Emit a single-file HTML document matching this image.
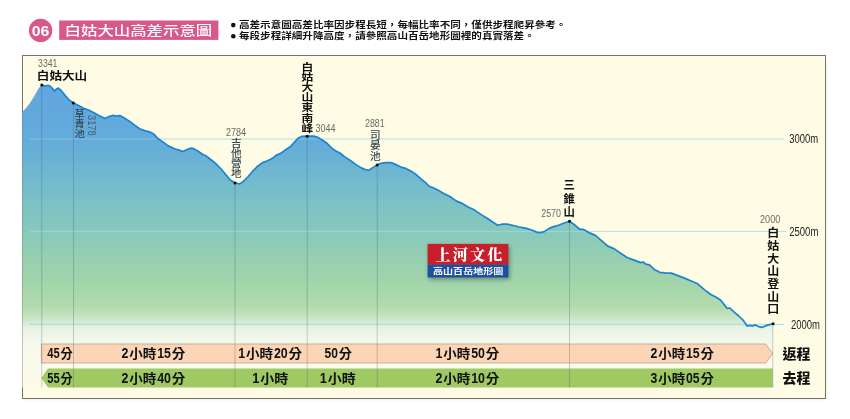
<!DOCTYPE html>
<html lang="zh-Hant"><head><meta charset="utf-8"><title>白姑大山高差示意圖</title>
<style>
html,body{margin:0;padding:0;background:#fff;}
body{width:850px;height:419px;overflow:hidden;}
svg{display:block;}
text{font-family:"Liberation Sans","Noto Sans CJK TC",sans-serif;}
.b{font-weight:bold;}
.num{fill:#6a6a66;font-size:10.6px;}
.sub{fill:#33434f;font-size:9.2px;font-weight:500;}
.pk{fill:#111;font-weight:bold;}
.alt{fill:#222;font-size:12px;}
.tm{fill:#111;font-weight:bold;font-size:13.4px;}
.serif{font-family:"Liberation Serif","Noto Serif CJK SC",serif;}
</style></head><body>
<svg width="850" height="419" viewBox="0 0 850 419">
<defs>
<linearGradient id="g" x1="0" y1="85" x2="0" y2="387.4" gradientUnits="userSpaceOnUse">
<stop offset="0.0000" stop-color="#62a6de"/>
<stop offset="0.1157" stop-color="#62a9dc"/>
<stop offset="0.2116" stop-color="#65aed7"/>
<stop offset="0.3009" stop-color="#70b8cf"/>
<stop offset="0.3869" stop-color="#7cc1c6"/>
<stop offset="0.4861" stop-color="#88c9bc"/>
<stop offset="0.5721" stop-color="#96cfb0"/>
<stop offset="0.6614" stop-color="#a4d5aa"/>
<stop offset="0.7341" stop-color="#b2dbae"/>
<stop offset="0.7738" stop-color="#cce6c6"/>
<stop offset="0.8036" stop-color="#e8f2e4"/>
<stop offset="0.8433" stop-color="#f3f8ec"/>
<stop offset="0.8829" stop-color="#f7f9ec"/>
<stop offset="0.9358" stop-color="#fafbea"/>
<stop offset="1.0000" stop-color="#fcfbe6"/>
</linearGradient>
<filter id="sh" x="-10%" y="-20%" width="120%" height="150%"><feGaussianBlur stdDeviation="2"/></filter>
<filter id="fsh" x="-2%" y="-2%" width="104%" height="104%"><feGaussianBlur stdDeviation="1.2"/></filter>
</defs>
<rect width="850" height="419" fill="#fff"/>

<rect x="24" y="62" width="802.6" height="337.6" fill="#b8b8ae" opacity="0.3" filter="url(#fsh)"/>
<rect x="22.5" y="55.5" width="803" height="343" fill="#fefce4" stroke="#74746d" stroke-width="1"/>
<path d="M22.4 111.8 L25.9 108.2 L30.0 103.0 L34.1 96.4 L38.2 89.0 L40.7 85.7 L41.9 84.9 L44.8 86.0 L48.1 85.3 L50.6 86.5 L53.1 89.4 L54.7 91.1 L56.4 89.0 L58.5 88.1 L60.5 89.8 L63.8 93.9 L68.7 99.7 L73.3 103.0 L78.6 105.4 L83.5 108.2 L88.5 110.0 L93.4 112.5 L98.4 115.3 L105.0 118.6 L109.1 116.6 L113.2 115.3 L116.5 116.1 L119.8 115.6 L123.9 117.8 L129.7 121.4 L134.6 125.2 L139.6 128.8 L144.5 130.6 L149.4 131.8 L153.6 133.9 L158.2 138.8 L163.2 142.1 L168.1 145.9 L174.7 148.7 L179.7 150.4 L183.0 151.5 L187.1 149.5 L190.4 148.2 L193.7 148.7 L197.8 150.9 L202.7 154.5 L206.0 155.8 L211.3 160.0 L216.2 164.0 L221.1 169.0 L226.1 175.0 L230.5 180.2 L234.9 182.8 L239.5 184.0 L242.8 181.9 L247.8 177.0 L252.7 171.2 L257.7 166.2 L262.6 162.6 L267.5 160.8 L272.5 158.3 L276.6 155.0 L280.7 153.4 L285.7 149.8 L290.6 146.5 L294.7 141.9 L298.8 137.7 L302.1 136.3 L307.1 136.2 L313.7 136.1 L317.8 137.4 L322.7 140.2 L327.7 144.0 L331.8 148.1 L335.9 151.1 L339.9 153.0 L344.8 156.9 L351.4 161.3 L356.4 164.9 L361.3 167.9 L365.4 169.5 L368.7 170.4 L372.8 167.6 L377.2 164.9 L381.1 163.3 L386.0 162.6 L391.0 162.5 L395.9 164.6 L400.8 167.1 L405.8 168.4 L410.7 170.9 L415.7 174.2 L420.6 178.6 L425.6 182.7 L428.8 186.0 L433.8 188.0 L438.7 190.6 L443.7 193.4 L449.9 196.5 L456.5 201.1 L461.4 203.1 L468.0 206.9 L474.6 210.1 L481.2 214.6 L487.8 218.7 L492.7 222.0 L497.7 225.3 L501.8 224.2 L507.5 224.2 L512.5 225.3 L519.1 227.0 L525.7 228.1 L532.3 230.2 L537.2 232.4 L540.5 232.7 L543.8 231.9 L548.7 228.6 L553.7 226.6 L558.6 225.3 L563.6 223.2 L569.5 221.3 L574.8 225.0 L579.8 229.3 L583.1 229.3 L589.7 232.9 L595.4 235.4 L601.2 240.4 L607.8 246.1 L614.4 248.9 L621.0 253.5 L627.5 257.7 L634.1 260.1 L640.7 262.6 L643.2 262.0 L645.7 264.2 L649.5 264.8 L654.8 269.8 L659.8 272.3 L664.7 272.8 L671.3 273.1 L677.9 275.6 L684.5 278.1 L691.1 281.0 L697.7 283.8 L704.3 289.6 L710.8 294.5 L715.8 297.0 L720.7 300.3 L724.0 304.4 L727.0 308.3 L729.8 308.0 L733.9 311.8 L738.8 316.0 L743.0 320.1 L745.4 323.4 L747.1 325.9 L750.4 325.4 L752.8 325.9 L755.3 324.9 L758.6 326.6 L761.9 327.4 L765.2 325.9 L768.5 324.9 L773.1 323.8 L773.1 387.4 L22.4 387.4 Z" fill="url(#g)"/>
<line x1="29.5" y1="139" x2="784" y2="139" stroke="#8fd0e6" stroke-width="1.1" opacity="0.6"/>
<line x1="29.5" y1="231.4" x2="786" y2="231.4" stroke="#9cdce8" stroke-width="1" opacity="0.75"/>
<line x1="29.5" y1="324.3" x2="784" y2="324.3" stroke="#96d8e0" stroke-width="1" opacity="0.8"/>
<path d="M41.9 84.9 L44.8 86.0 L48.1 85.3 L50.6 86.5 L53.1 89.4 L54.7 91.1 L56.4 89.0 L58.5 88.1 L60.5 89.8 L63.8 93.9 L68.7 99.7 L73.3 103.0 L78.6 105.4 L83.5 108.2 L88.5 110.0 L93.4 112.5 L98.4 115.3 L105.0 118.6 L109.1 116.6 L113.2 115.3 L116.5 116.1 L119.8 115.6 L123.9 117.8 L129.7 121.4 L134.6 125.2 L139.6 128.8 L144.5 130.6 L149.4 131.8 L153.6 133.9 L158.2 138.8 L163.2 142.1 L168.1 145.9 L174.7 148.7 L179.7 150.4 L183.0 151.5 L187.1 149.5 L190.4 148.2 L193.7 148.7 L197.8 150.9 L202.7 154.5 L206.0 155.8 L211.3 160.0 L216.2 164.0 L221.1 169.0 L226.1 175.0 L230.5 180.2 L234.9 182.8 L239.5 184.0 L242.8 181.9 L247.8 177.0 L252.7 171.2 L257.7 166.2 L262.6 162.6 L267.5 160.8 L272.5 158.3 L276.6 155.0 L280.7 153.4 L285.7 149.8 L290.6 146.5 L294.7 141.9 L298.8 137.7 L302.1 136.3 L307.1 136.2 L313.7 136.1 L317.8 137.4 L322.7 140.2 L327.7 144.0 L331.8 148.1 L335.9 151.1 L339.9 153.0 L344.8 156.9 L351.4 161.3 L356.4 164.9 L361.3 167.9 L365.4 169.5 L368.7 170.4 L372.8 167.6 L377.2 164.9 L381.1 163.3 L386.0 162.6 L391.0 162.5 L395.9 164.6 L400.8 167.1 L405.8 168.4 L410.7 170.9 L415.7 174.2 L420.6 178.6 L425.6 182.7 L428.8 186.0 L433.8 188.0 L438.7 190.6 L443.7 193.4 L449.9 196.5 L456.5 201.1 L461.4 203.1 L468.0 206.9 L474.6 210.1 L481.2 214.6 L487.8 218.7 L492.7 222.0 L497.7 225.3 L501.8 224.2 L507.5 224.2 L512.5 225.3 L519.1 227.0 L525.7 228.1 L532.3 230.2 L537.2 232.4 L540.5 232.7 L543.8 231.9 L548.7 228.6 L553.7 226.6 L558.6 225.3 L563.6 223.2 L569.5 221.3 L574.8 225.0 L579.8 229.3 L583.1 229.3 L589.7 232.9 L595.4 235.4 L601.2 240.4 L607.8 246.1 L614.4 248.9 L621.0 253.5 L627.5 257.7 L634.1 260.1 L640.7 262.6 L643.2 262.0 L645.7 264.2 L649.5 264.8 L654.8 269.8 L659.8 272.3 L664.7 272.8 L671.3 273.1 L677.9 275.6 L684.5 278.1 L691.1 281.0 L697.7 283.8 L704.3 289.6 L710.8 294.5 L715.8 297.0 L720.7 300.3 L724.0 304.4 L727.0 308.3 L729.8 308.0 L733.9 311.8 L738.8 316.0 L743.0 320.1 L745.4 323.4 L747.1 325.9 L750.4 325.4 L752.8 325.9 L755.3 324.9 L758.6 326.6 L761.9 327.4 L765.2 325.9 L768.5 324.9 L773.1 323.8" fill="none" stroke="#1a84cf" stroke-width="1.7" stroke-linejoin="round" stroke-linecap="round"/>
<path d="M41.4 344 H765.7 L772.7 353.5 L765.7 363 H41.4 Z" fill="#fbd5b5" stroke="#b79a82" stroke-width="0.7"/>
<path d="M48 368.6 H772.7 V387.4 H48 L41.4 378 Z" fill="#9fca63"/>
<line x1="41.8" y1="85.0" x2="41.8" y2="387.4" stroke="#3a5670" stroke-width="0.6" opacity="0.48"/>
<line x1="73.5" y1="103.0" x2="73.5" y2="387.4" stroke="#3a5670" stroke-width="0.6" opacity="0.48"/>
<line x1="235.0" y1="183.0" x2="235.0" y2="387.4" stroke="#3a5670" stroke-width="0.6" opacity="0.48"/>
<line x1="307.2" y1="136.2" x2="307.2" y2="387.4" stroke="#3a5670" stroke-width="0.6" opacity="0.48"/>
<line x1="377.2" y1="165.0" x2="377.2" y2="387.4" stroke="#3a5670" stroke-width="0.6" opacity="0.48"/>
<line x1="569.5" y1="221.3" x2="569.5" y2="387.4" stroke="#3a5670" stroke-width="0.6" opacity="0.48"/>
<line x1="772.8" y1="324.0" x2="772.8" y2="387.4" stroke="#3a5670" stroke-width="0.6" opacity="0.48"/>
<circle cx="41.8" cy="84.9" r="1.5" fill="#0a0a0a"/>
<circle cx="73.3" cy="103.0" r="1.5" fill="#0a0a0a"/>
<circle cx="235.0" cy="183.0" r="1.5" fill="#0a0a0a"/>
<circle cx="307.2" cy="136.2" r="1.5" fill="#0a0a0a"/>
<circle cx="377.2" cy="164.9" r="1.5" fill="#0a0a0a"/>
<circle cx="569.5" cy="221.3" r="1.5" fill="#0a0a0a"/>
<circle cx="773.1" cy="323.8" r="1.5" fill="#0a0a0a"/>
<text class="alt" x="789.2" y="143.1" textLength="29.0" lengthAdjust="spacingAndGlyphs">3000m</text>
<text class="alt" x="789.2" y="236.0" textLength="29.2" lengthAdjust="spacingAndGlyphs">2500m</text>
<text class="alt" x="791.0" y="328.9" textLength="29.0" lengthAdjust="spacingAndGlyphs">2000m</text>
<text class="num" x="38.1" y="66.8" textLength="19.3" lengthAdjust="spacingAndGlyphs">3341</text>
<text class="num" x="225.9" y="135.9" textLength="20.1" lengthAdjust="spacingAndGlyphs">2784</text>
<text class="num" x="315.4" y="131.6" textLength="20.0" lengthAdjust="spacingAndGlyphs">3044</text>
<text class="num" x="365.0" y="126.6" textLength="19.7" lengthAdjust="spacingAndGlyphs">2881</text>
<text class="num" x="541.2" y="216.5" textLength="19.8" lengthAdjust="spacingAndGlyphs">2570</text>
<text class="num" x="760.1" y="223.0" textLength="20.1" lengthAdjust="spacingAndGlyphs">2000</text>
<text class="num" style="fill:#456079;font-size:10.2px" transform="translate(87.5 115) rotate(90)" textLength="20.6" lengthAdjust="spacingAndGlyphs">3178</text>
<text class="pk" x="36.8" y="79.5" textLength="50.4" lengthAdjust="spacingAndGlyphs" font-size="10.8">白姑大山</text>
<text class="sub" style="font-size:9.6px" text-anchor="middle" transform="translate(79.7 116.9) scale(1.060 1)">草</text>
<text class="sub" style="font-size:9.6px" text-anchor="middle" transform="translate(79.7 126.9) scale(1.060 1)">青</text>
<text class="sub" style="font-size:9.6px" text-anchor="middle" transform="translate(79.7 136.8) scale(1.060 1)">池</text>
<text class="sub" style="font-size:9.8px" text-anchor="middle" transform="translate(236.4 146.7) scale(1.080 1)">吉</text>
<text class="sub" style="font-size:9.8px" text-anchor="middle" transform="translate(236.4 156.9) scale(1.080 1)">他</text>
<text class="sub" style="font-size:9.8px" text-anchor="middle" transform="translate(236.4 167.1) scale(1.080 1)">營</text>
<text class="sub" style="font-size:9.8px" text-anchor="middle" transform="translate(236.4 177.3) scale(1.080 1)">地</text>
<text class="sub" style="font-size:9.8px" text-anchor="middle" transform="translate(375.4 139.3) scale(1.080 1)">司</text>
<text class="sub" style="font-size:9.8px" text-anchor="middle" transform="translate(375.4 149.4) scale(1.080 1)">晏</text>
<text class="sub" style="font-size:9.8px" text-anchor="middle" transform="translate(375.4 159.6) scale(1.080 1)">池</text>
<text class="pk" style="font-size:9.8px" text-anchor="middle" transform="translate(307.3 70.9) scale(1.200 1)">白</text>
<text class="pk" style="font-size:9.8px" text-anchor="middle" transform="translate(307.3 81.0) scale(1.200 1)">姑</text>
<text class="pk" style="font-size:9.8px" text-anchor="middle" transform="translate(307.3 91.1) scale(1.200 1)">大</text>
<text class="pk" style="font-size:9.8px" text-anchor="middle" transform="translate(307.3 101.2) scale(1.200 1)">山</text>
<text class="pk" style="font-size:9.8px" text-anchor="middle" transform="translate(307.3 111.3) scale(1.200 1)">東</text>
<text class="pk" style="font-size:9.8px" text-anchor="middle" transform="translate(307.3 121.5) scale(1.200 1)">南</text>
<text class="pk" style="font-size:9.8px" text-anchor="middle" transform="translate(307.3 131.6) scale(1.200 1)">峰</text>
<text class="pk" style="font-size:11.6px" text-anchor="middle" transform="translate(569.1 189.4) scale(0.980 1)">三</text>
<text class="pk" style="font-size:11.6px" text-anchor="middle" transform="translate(569.1 202.5) scale(0.980 1)">錐</text>
<text class="pk" style="font-size:11.6px" text-anchor="middle" transform="translate(569.1 215.6) scale(0.980 1)">山</text>
<text class="pk" style="font-size:11.0px" text-anchor="middle" transform="translate(773.2 237.0) scale(1.090 1)">白</text>
<text class="pk" style="font-size:11.0px" text-anchor="middle" transform="translate(773.2 249.7) scale(1.090 1)">姑</text>
<text class="pk" style="font-size:11.0px" text-anchor="middle" transform="translate(773.2 262.5) scale(1.090 1)">大</text>
<text class="pk" style="font-size:11.0px" text-anchor="middle" transform="translate(773.2 275.2) scale(1.090 1)">山</text>
<text class="pk" style="font-size:11.0px" text-anchor="middle" transform="translate(773.2 287.9) scale(1.090 1)">登</text>
<text class="pk" style="font-size:11.0px" text-anchor="middle" transform="translate(773.2 300.6) scale(1.090 1)">山</text>
<text class="pk" style="font-size:11.0px" text-anchor="middle" transform="translate(773.2 313.3) scale(1.090 1)">口</text>
<text class="tm" style="font-size:13.8px" x="47.20" y="358.4" textLength="12.41" lengthAdjust="spacingAndGlyphs">45</text>
<text class="tm" style="font-size:12.8px" x="60.38" y="358.4" textLength="12.22" lengthAdjust="spacingAndGlyphs">分</text>
<text class="tm" style="font-size:13.8px" x="121.60" y="358.4" textLength="6.88" lengthAdjust="spacingAndGlyphs">2</text>
<text class="tm" style="font-size:12.8px" x="129.32" y="358.4" textLength="27.09" lengthAdjust="spacingAndGlyphs">小時</text>
<text class="tm" style="font-size:13.8px" x="157.26" y="358.4" textLength="13.75" lengthAdjust="spacingAndGlyphs">15</text>
<text class="tm" style="font-size:12.8px" x="171.86" y="358.4" textLength="13.54" lengthAdjust="spacingAndGlyphs">分</text>
<text class="tm" style="font-size:13.8px" x="238.20" y="358.4" textLength="6.90" lengthAdjust="spacingAndGlyphs">1</text>
<text class="tm" style="font-size:12.8px" x="245.95" y="358.4" textLength="27.17" lengthAdjust="spacingAndGlyphs">小時</text>
<text class="tm" style="font-size:13.8px" x="273.97" y="358.4" textLength="13.80" lengthAdjust="spacingAndGlyphs">20</text>
<text class="tm" style="font-size:12.8px" x="288.61" y="358.4" textLength="13.59" lengthAdjust="spacingAndGlyphs">分</text>
<text class="tm" style="font-size:13.8px" x="324.60" y="358.4" textLength="13.39" lengthAdjust="spacingAndGlyphs">50</text>
<text class="tm" style="font-size:12.8px" x="338.82" y="358.4" textLength="13.18" lengthAdjust="spacingAndGlyphs">分</text>
<text class="tm" style="font-size:13.8px" x="435.60" y="358.4" textLength="6.88" lengthAdjust="spacingAndGlyphs">1</text>
<text class="tm" style="font-size:12.8px" x="443.32" y="358.4" textLength="27.09" lengthAdjust="spacingAndGlyphs">小時</text>
<text class="tm" style="font-size:13.8px" x="471.26" y="358.4" textLength="13.75" lengthAdjust="spacingAndGlyphs">50</text>
<text class="tm" style="font-size:12.8px" x="485.86" y="358.4" textLength="13.54" lengthAdjust="spacingAndGlyphs">分</text>
<text class="tm" style="font-size:13.8px" x="650.60" y="358.4" textLength="6.83" lengthAdjust="spacingAndGlyphs">2</text>
<text class="tm" style="font-size:12.8px" x="658.28" y="358.4" textLength="26.92" lengthAdjust="spacingAndGlyphs">小時</text>
<text class="tm" style="font-size:13.8px" x="686.03" y="358.4" textLength="13.67" lengthAdjust="spacingAndGlyphs">15</text>
<text class="tm" style="font-size:12.8px" x="700.54" y="358.4" textLength="13.46" lengthAdjust="spacingAndGlyphs">分</text>
<text class="tm" style="font-size:13.8px" x="47.20" y="382.7" textLength="12.41" lengthAdjust="spacingAndGlyphs">55</text>
<text class="tm" style="font-size:12.8px" x="60.38" y="382.7" textLength="12.22" lengthAdjust="spacingAndGlyphs">分</text>
<text class="tm" style="font-size:13.8px" x="121.60" y="382.7" textLength="6.88" lengthAdjust="spacingAndGlyphs">2</text>
<text class="tm" style="font-size:12.8px" x="129.32" y="382.7" textLength="27.09" lengthAdjust="spacingAndGlyphs">小時</text>
<text class="tm" style="font-size:13.8px" x="157.26" y="382.7" textLength="13.75" lengthAdjust="spacingAndGlyphs">40</text>
<text class="tm" style="font-size:12.8px" x="171.86" y="382.7" textLength="13.54" lengthAdjust="spacingAndGlyphs">分</text>
<text class="tm" style="font-size:13.8px" x="252.20" y="382.7" textLength="7.11" lengthAdjust="spacingAndGlyphs">1</text>
<text class="tm" style="font-size:12.8px" x="260.19" y="382.7" textLength="28.01" lengthAdjust="spacingAndGlyphs">小時</text>
<text class="tm" style="font-size:13.8px" x="319.80" y="382.7" textLength="7.11" lengthAdjust="spacingAndGlyphs">1</text>
<text class="tm" style="font-size:12.8px" x="327.79" y="382.7" textLength="28.01" lengthAdjust="spacingAndGlyphs">小時</text>
<text class="tm" style="font-size:13.8px" x="435.60" y="382.7" textLength="6.88" lengthAdjust="spacingAndGlyphs">2</text>
<text class="tm" style="font-size:12.8px" x="443.32" y="382.7" textLength="27.09" lengthAdjust="spacingAndGlyphs">小時</text>
<text class="tm" style="font-size:13.8px" x="471.26" y="382.7" textLength="13.75" lengthAdjust="spacingAndGlyphs">10</text>
<text class="tm" style="font-size:12.8px" x="485.86" y="382.7" textLength="13.54" lengthAdjust="spacingAndGlyphs">分</text>
<text class="tm" style="font-size:13.8px" x="650.60" y="382.7" textLength="6.83" lengthAdjust="spacingAndGlyphs">3</text>
<text class="tm" style="font-size:12.8px" x="658.28" y="382.7" textLength="26.92" lengthAdjust="spacingAndGlyphs">小時</text>
<text class="tm" style="font-size:13.8px" x="686.03" y="382.7" textLength="13.67" lengthAdjust="spacingAndGlyphs">05</text>
<text class="tm" style="font-size:12.8px" x="700.54" y="382.7" textLength="13.46" lengthAdjust="spacingAndGlyphs">分</text>
<text class="pk" x="782.4" y="358.8" textLength="28.0" lengthAdjust="spacingAndGlyphs" font-size="13.2" style="font-weight:900">返程</text>
<text class="pk" x="782.4" y="383.2" textLength="28.0" lengthAdjust="spacingAndGlyphs" font-size="13.2" style="font-weight:900">去程</text>
<rect x="428.8" y="246" width="81" height="33.5" fill="#24463c" opacity="0.5" filter="url(#sh)"/>
<rect x="427.6" y="243.9" width="80.8" height="20.8" fill="#c8202b"/>
<rect x="427.6" y="264.6" width="80.8" height="12.8" fill="#1d4f9f"/>
<text class="serif" x="435.6" y="260.2" font-size="15" font-weight="900" fill="#fff" textLength="66.6" lengthAdjust="spacing">上河文化</text>
<text x="433.0" y="274.2" font-size="7.8" font-weight="bold" fill="#fff" textLength="70.4" lengthAdjust="spacingAndGlyphs">高山百岳地形圖</text>
<circle cx="40.6" cy="30.4" r="11.7" fill="#d8588b"/>
<text x="31.8" y="35.7" font-size="14.6" font-weight="bold" fill="#fff" textLength="17.6" lengthAdjust="spacingAndGlyphs">06</text>
<rect x="59.2" y="20.5" width="159.2" height="19.4" fill="#d8588b"/>
<text x="64.6" y="34.9" font-size="12.6" font-weight="500" fill="#fff" textLength="147.6" lengthAdjust="spacingAndGlyphs">白姑大山高差示意圖</text>
<circle cx="233.3" cy="25.1" r="2.3" fill="#111"/>
<circle cx="233.3" cy="36.3" r="2.3" fill="#111"/>
<text x="239.0" y="28.2" font-size="8.9" font-weight="bold" fill="#111" textLength="327.4" lengthAdjust="spacingAndGlyphs">高差示意圖高差比率因步程長短，每幅比率不同，僅供步程爬昇參考。</text>
<text x="239.0" y="39.4" font-size="8.9" font-weight="bold" fill="#111" textLength="295.7" lengthAdjust="spacingAndGlyphs">每段步程詳細升降高度，請參照高山百岳地形圖裡的真實落差。</text>
</svg></body></html>
